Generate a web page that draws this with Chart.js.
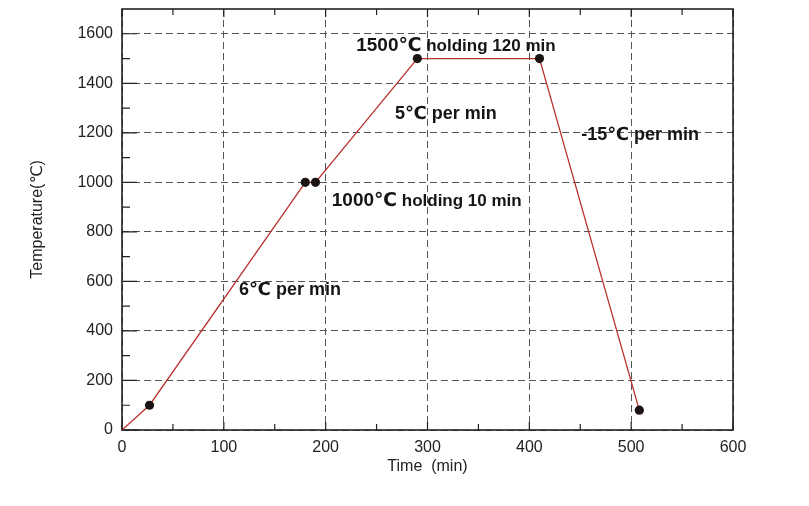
<!DOCTYPE html>
<html>
<head>
<meta charset="utf-8">
<script src="https://cdn.jsdelivr.net/npm/chart.js@4.4.0/dist/chart.umd.min.js"></script>
<style>
  html, body { margin: 0; padding: 0; background: #fff; }
  #wrap { width: 809px; height: 506px; }
</style>
</head>
<body>
<div id="wrap"><canvas id="profile" width="809" height="506"></canvas></div>
<script>
// heating profile
const timeMin = [0, 27, 180, 190, 290, 410, 508];
const tempC = [0, 100, 1000, 1000, 1500, 1500, 80];

// black dots on the curve
const dotTime = [27, 180, 190, 290, 410, 508];
const dotTemp = [100, 1000, 1000, 1500, 1500, 80];

const xTicks = [0, 100, 200, 300, 400, 500, 600];
const yTicks = [0, 200, 400, 600, 800, 1000, 1200, 1400, 1600];

// notes on the plot (anchored in data units, left/baseline)
const noteTime = [230, 268, 451, 206, 115];
const noteTemp = [1530, 1254, 1170, 903, 547];
const noteMain = ['1500℃', '5℃ per min', '-15℃ per min', '1000℃', '6℃ per min'];
const noteRest = [' holding 120 min', '', '', ' holding 10 min', ''];

const FONT = '"Liberation Sans", Arial, "DejaVu Sans", sans-serif';
Chart.defaults.font.family = FONT;
Chart.defaults.color = '#222';

// solid frame + inward ticks like the original plot
const framePlugin = {
    id: 'frame',
    beforeDatasetsDraw(chart) {
        const { ctx, chartArea: a, scales: { x, y } } = chart;
        ctx.save();
        ctx.setLineDash([]);
        ctx.strokeStyle = '#222';
        ctx.lineWidth = 1.2;
        ctx.beginPath();
        xTicks.forEach((v, i) => {
            const px = x.getPixelForValue(v);
            ctx.moveTo(px, a.bottom); ctx.lineTo(px, a.bottom - 8);
            ctx.moveTo(px, a.top); ctx.lineTo(px, a.top + 8);
            if (i < xTicks.length - 1) {
                const pm = x.getPixelForValue((v + xTicks[i + 1]) / 2);
                ctx.moveTo(pm, a.bottom); ctx.lineTo(pm, a.bottom - 6);
                ctx.moveTo(pm, a.top); ctx.lineTo(pm, a.top + 6);
            }
        });
        yTicks.forEach((v, i) => {
            const py = y.getPixelForValue(v);
            ctx.moveTo(a.left, py); ctx.lineTo(a.left + 15, py);
            if (i < yTicks.length - 1) {
                const pm = y.getPixelForValue((v + yTicks[i + 1]) / 2);
                ctx.moveTo(a.left, pm); ctx.lineTo(a.left + 8, pm);
            }
        });
        ctx.stroke();
        ctx.lineWidth = 1.6;
        ctx.strokeRect(a.left, a.top, a.right - a.left, a.bottom - a.top);
        ctx.restore();
    }
};

const notesPlugin = {
    id: 'notes',
    afterDatasetsDraw(chart) {
        const { ctx, scales: { x, y } } = chart;
        ctx.save();
        ctx.fillStyle = '#151515';
        ctx.textBaseline = 'alphabetic';
        ctx.textAlign = 'left';
        noteMain.forEach((txt, i) => {
            const px = x.getPixelForValue(noteTime[i]);
            const py = y.getPixelForValue(noteTemp[i]);
            const big = noteRest[i] ? 19 : 18;
            ctx.font = `bold ${big}px ${FONT}`;
            ctx.fillText(txt, px, py);
            if (noteRest[i]) {
                const w = ctx.measureText(txt).width;
                ctx.font = `bold 17px ${FONT}`;
                ctx.fillText(noteRest[i], px + w, py);
            }
        });
        ctx.restore();
    }
};

const ctx = document.getElementById('profile').getContext('2d');
new Chart(ctx, {
    type: 'scatter',
    data: {
        datasets: [
            {
                type: 'line',
                data: timeMin.map((t, i) => ({ x: t, y: tempC[i] })),
                borderColor: '#b8302c',
                borderWidth: 1.3,
                pointRadius: 0,
                fill: false,
                tension: 0,
                order: 2
            },
            {
                data: dotTime.map((t, i) => ({ x: t, y: dotTemp[i] })),
                backgroundColor: '#1c1414',
                borderWidth: 0,
                pointRadius: 4.6,
                order: 1
            }
        ]
    },
    options: {
        responsive: false,
        animation: false,
        layout: { padding: { top: 9, right: 76, bottom: 0, left: 0 } },
        plugins: {
            legend: { display: false },
            tooltip: { enabled: false }
        },
        scales: {
            x: {
                type: 'linear',
                min: 0,
                max: 600,
                afterBuildTicks: s => { s.ticks = xTicks.map(v => ({ value: v })); },
                afterFit: s => { s.height = 76; s.paddingLeft = 0; s.paddingRight = 0; },
                grid: { color: '#555', lineWidth: 1, drawTicks: false },
                border: { display: false, dash: [7, 4] },
                ticks: { padding: 8, color: '#222', font: { size: 16 }, maxRotation: 0, callback: v => String(v) },
                title: {
                    display: true,
                    text: 'Time  (min)',
                    color: '#222',
                    font: { size: 16 },
                    padding: { top: 0, bottom: 30 }
                }
            },
            y: {
                type: 'linear',
                min: 0,
                max: 1700,
                afterBuildTicks: s => { s.ticks = yTicks.map(v => ({ value: v })); },
                afterFit: s => { s.width = 122; s.paddingTop = 0; s.paddingBottom = 0; },
                grid: { color: '#555', lineWidth: 1, drawTicks: false },
                border: { display: false, dash: [7, 4] },
                ticks: { padding: 9, color: '#222', font: { size: 16 }, callback: v => String(v) },
                title: {
                    display: true,
                    text: 'Temperature(℃)',
                    color: '#222',
                    font: { size: 16 },
                    padding: { top: 28, bottom: 0 }
                }
            }
        }
    },
    plugins: [framePlugin, notesPlugin]
});
</script>
</body>
</html>
